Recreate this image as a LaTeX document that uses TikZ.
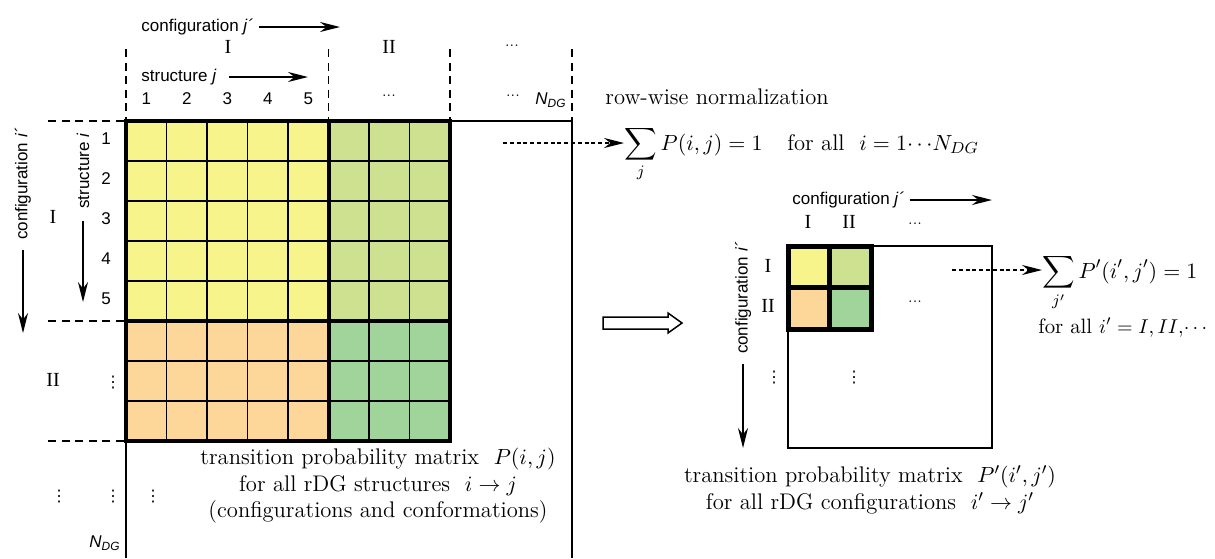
\documentclass[tikz,border=0pt]{standalone}
\usepackage{amsmath}
\usepackage{amssymb}
\usepackage{fontspec}
\setsansfont{Liberation Sans}
\newfontfamily\romfont{Liberation Serif}
\newfontfamily\symfont{DejaVu Sans}
\usepackage{tikz}
\usetikzlibrary{positioning,arrows.meta}

\definecolor{cellyellow}{RGB}{248,244,140}
\definecolor{celllime}{RGB}{205,225,144}
\definecolor{cellorange}{RGB}{253,215,154}
\definecolor{cellgreen}{RGB}{160,212,155}

\begin{document}
\begin{tikzpicture}[x=0.5pt,y=-0.5pt,>={Stealth[length=10pt,width=5pt]},
		node distance=20pt,on grid,
		lbl/.style={font=\sffamily\fontsize{8.5}{10}\selectfont,inner sep=1pt},
		roman/.style={font=\romfont\fontsize{10}{11}\selectfont,inner sep=1pt},
		txt/.style={font=\fontsize{11.3}{13.2}\selectfont,inner sep=0pt},
		tinydots/.style={font=\fontsize{7}{8}\selectfont,inner sep=0pt},
		vdotsym/.style={font=\symfont\fontsize{8}{9}\selectfont,inner sep=0pt},
		axis/.style={->,line width=0.75pt},
		gridline/.style={line width=0.65pt},
		frameline/.style={line width=0.75pt},
		blockline/.style={line width=2pt},
		sepline/.style={line width=0.6pt,dash pattern=on 4pt off 2.8pt},
		dotarrow/.style={->,line width=0.6pt,dash pattern=on 2pt off 1.4pt}]
	\useasboundingbox (0,0) rectangle (1215,558);

	% big matrix P(i,j)
	\fill[cellyellow] (126,121) rectangle (328.5,321);
	\fill[celllime] (328.5,121) rectangle (450,321);
	\fill[cellorange] (126,321) rectangle (328.5,441);
	\fill[cellgreen] (328.5,321) rectangle (450,441);
	\foreach \c in {1,...,7}
		\draw[gridline] ({126+40.5*\c},121) -- ({126+40.5*\c},441);
	\foreach \r in {1,...,7}
		\draw[gridline] (126,{121+40*\r}) -- (450,{121+40*\r});
	\draw[frameline] (450,121) -- (572,121) -- (572,558);
	\draw[frameline] (126,441) -- (126,558);
	\draw[blockline] (126,121) rectangle (450,441);
	\draw[blockline] (328.5,121) -- (328.5,441) (126,321) -- (450,321);
	\foreach \x in {126,328.5,450,572}
		\draw[sepline] (\x,49) -- (\x,121);
	\foreach \y in {121,321,441}
		\draw[sepline] (48,\y) -- (126,\y);

	% column labels
	\node[lbl,anchor=west] (cfgj) at (139,27) {configuration \textit{j}\textit{´}};
	\coordinate (cfgjend) at (340,27);
	\draw[axis,shorten <=1.5pt] (cfgj) -- (cfgjend);
	\node[roman] (colI) at (228,47) {I};
	\node[roman] (colII) at (389,47) {II};
	\node[tinydots] (colmore) at (512,46) {...};
	\node[lbl,anchor=west] (strj) at (139,77) {structure \textit{j}};
	\coordinate (strjend) at (308,77);
	\draw[axis,shorten <=5pt] (strj) -- (strjend);
	\foreach \n in {1,...,5}
		\node[lbl] (cnum\n) at ({126+40.5*\n-20.25},99) {\n};
	\node[tinydots] (cnummid) at (389,96) {...};
	\node[tinydots] (cnummore) at (513,96) {...};
	\node[lbl] (cndg) at (551,100) {\textit{N}\textsubscript{\textit{DG}}};

	% row labels
	\node[lbl,rotate=90] (cfgi) at (23,184) {configuration \textit{i}\textit{´}};
	\coordinate (cfgiend) at (23,333);
	\draw[axis,shorten <=4pt] (cfgi) -- (cfgiend);
	\node[lbl,rotate=90] (stri) at (83,171) {structure \textit{i}};
	\coordinate (striend) at (83,302);
	\draw[axis,shorten <=5pt] (stri) -- (striend);
	\foreach \n in {1,...,5}
		\node[lbl] (rnum\n) at (106,{121+40*\n-22}) {\n};
	\node[roman] (rowI) at (53,217) {I};
	\node[roman] (rowII) at (53,380) {II};
	\node[vdotsym] (rnummid) at (113,383) {⋮};
	\node[vdotsym] (rowmore) at (59,497) {⋮};
	\node[vdotsym] (rnummore) at (113,497) {⋮};
	\node[vdotsym] (cellmore) at (153,497) {⋮};
	\node[lbl] (rndg) at (105,543) {\textit{N}\textsubscript{\textit{DG}}};

	\node[txt,align=center] (capL) at (378,486) {transition probability matrix\ \ $P(i,j)$\\
		for all rDG structures\ \ $i \rightarrow j$\\
		(configurations and conformations)};

	% normalization
	\node[txt,anchor=west] (rownorm) at (605,97) {row-wise normalization};
	\node[txt,anchor=base west] (sumP) at (624,150) {$\displaystyle\sum_{j} P(i,j) = 1$\hspace{1.1em}for all\ \ $i = 1\!\cdots\! N_{DG}$};
	\coordinate (dotsA) at (503,143);
	\draw[dotarrow] (dotsA) -- (dotsA -| sumP.west);

	% reduction
	\draw[frameline,fill=white] (603,317) -- (668,317) -- (668,313) -- (682,323)
		-- (668,333) -- (668,329) -- (603,329) -- cycle;

	% small matrix P'(i',j')
	\fill[cellyellow] (788,246) rectangle (829.5,287.5);
	\fill[celllime] (829.5,246) rectangle (871,287.5);
	\fill[cellorange] (788,287.5) rectangle (829.5,329);
	\fill[cellgreen] (829.5,287.5) rectangle (871,329);
	\draw[frameline] (788,246) rectangle (992,448);
	\draw[line width=2.5pt] (788,246) rectangle (871,329);
	\draw[line width=2.5pt] (829.5,246) -- (829.5,329) (788,287.5) -- (871,287.5);

	\node[lbl,anchor=west] (cfgj2) at (790,200) {configuration \textit{j}\textit{´}};
	\coordinate (cfgj2end) at (992,200);
	\draw[axis,shorten <=1.5pt] (cfgj2) -- (cfgj2end);
	\node[roman] (colI2) at (808,222) {I};
	\node[roman] (colII2) [right=20.5pt of colI2] {II};
	\node[tinydots] (colmore2) at (915,224) {...};
	\node[lbl,rotate=90] (cfgi2) at (743,298) {configuration \textit{i}\textit{´}};
	\coordinate (cfgi2end) at (743,448);
	\draw[axis,shorten <=4pt] (cfgi2) -- (cfgi2end);
	\node[roman] (rowI2) at (768,266) {I};
	\node[roman] (rowII2) [below=of rowI2] {II};
	\node[vdotsym] (rowmore2) at (774,378) {⋮};
	\node[vdotsym] (cellmore2) at (854,378) {⋮};
	\node[tinydots] (colcell2) at (915,302) {...};

	\node[txt,anchor=base west] (sumP2) at (1042,278) {$\displaystyle\sum_{j'} P'(i',j') = 1$};
	\node[txt,font=\fontsize{10.4}{12}\selectfont,anchor=base west] (forall2) at (1038,333) {for all\ $i' = I, II,\!\cdots$};
	\coordinate (dotsB) at (952,270);
	\draw[dotarrow] (dotsB) -- (dotsB -| sumP2.west);

	\node[txt,align=center] (capR) at (870,490) {transition probability matrix\ \ $P'(i',j')$\\
		for all rDG configurations\ \ $i' \rightarrow j'$};
\end{tikzpicture}
\end{document}
